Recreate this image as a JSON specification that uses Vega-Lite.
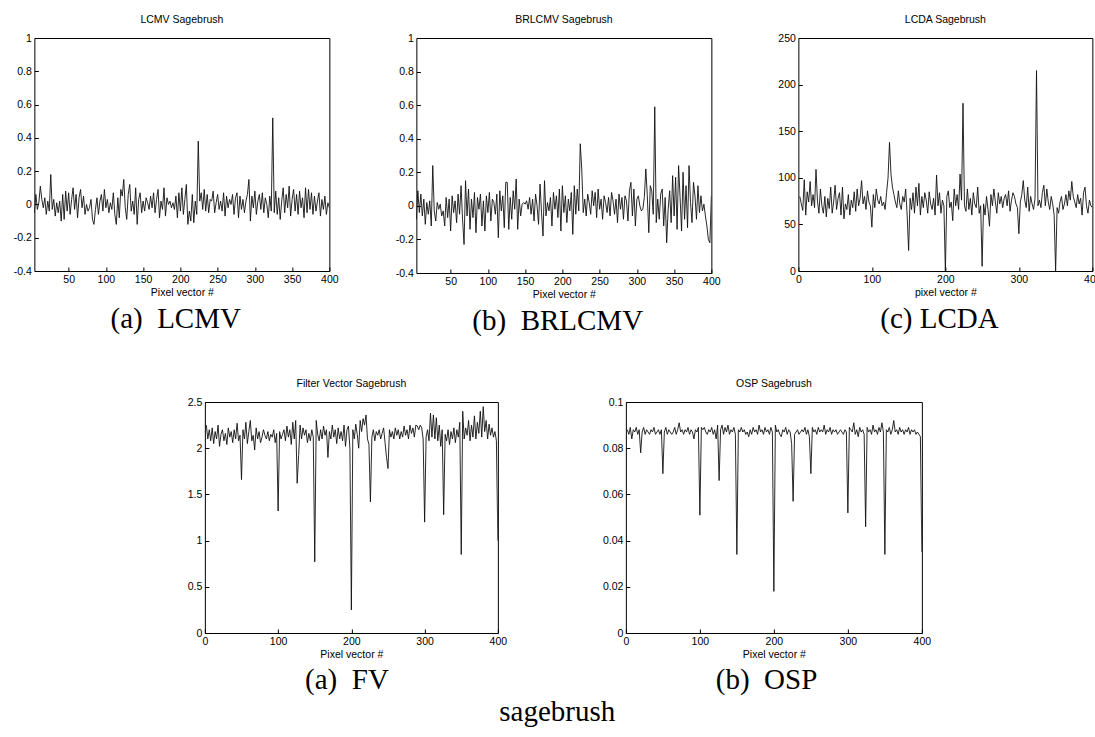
{
"$schema": "https://vega.github.io/schema/vega-lite/v6.json",
"background": "white",
"padding": {"left": 12, "top": 14, "right": 0, "bottom": 0},
"datasets": {"sb": [
{"x":2,"a":0.02,"b":0.05,"c":80,"d":2.25,"e":0.088},
{"x":4,"a":-0.05,"b":-0.08,"c":72,"d":2.1,"e":0.086},
{"x":6,"a":0.06,"b":0.09,"c":65,"d":2.2,"e":0.089},
{"x":8,"a":-0.03,"b":-0.04,"c":98,"d":2.08,"e":0.084},
{"x":10,"a":0.01,"b":0.07,"c":60,"d":2.22,"e":0.088},
{"x":12,"a":0.11,"b":-0.06,"c":85,"d":2.05,"e":0.087},
{"x":14,"a":0.03,"b":0.04,"c":74,"d":2.18,"e":0.089},
{"x":16,"a":-0.02,"b":-0.11,"c":96,"d":2.1,"e":0.086},
{"x":18,"a":0.04,"b":0.02,"c":70,"d":2.25,"e":0.088},
{"x":20,"a":-0.06,"b":-0.05,"c":82,"d":2.02,"e":0.078},
{"x":22,"a":0.02,"b":0.03,"c":68,"d":2.15,"e":0.087},
{"x":24,"a":-0.04,"b":-0.12,"c":109,"d":2.2,"e":0.089},
{"x":26,"a":0.18,"b":0.24,"c":75,"d":2.08,"e":0.086},
{"x":28,"a":-0.03,"b":-0.03,"c":62,"d":2.16,"e":0.088},
{"x":30,"a":0.03,"b":-0.09,"c":88,"d":2.04,"e":0.087},
{"x":32,"a":-0.07,"b":0.02,"c":70,"d":2.22,"e":0.086},
{"x":34,"a":0.01,"b":-0.02,"c":62,"d":2.12,"e":0.088},
{"x":36,"a":-0.05,"b":0.01,"c":80,"d":2.18,"e":0.087},
{"x":38,"a":0.02,"b":-0.06,"c":58,"d":2.06,"e":0.089},
{"x":40,"a":-0.1,"b":-0.03,"c":78,"d":2.2,"e":0.086},
{"x":42,"a":0.06,"b":-0.12,"c":67,"d":2.1,"e":0.087},
{"x":44,"a":-0.09,"b":0.05,"c":90,"d":2.27,"e":0.088},
{"x":46,"a":0.08,"b":-0.07,"c":62,"d":2.08,"e":0.086},
{"x":48,"a":-0.04,"b":0.04,"c":74,"d":2.14,"e":0.088},
{"x":50,"a":0.07,"b":-0.15,"c":92,"d":1.66,"e":0.069},
{"x":52,"a":-0.06,"b":0.06,"c":66,"d":2.2,"e":0.087},
{"x":54,"a":0.03,"b":-0.04,"c":78,"d":2.1,"e":0.089},
{"x":56,"a":0.1,"b":0.03,"c":84,"d":2.28,"e":0.086},
{"x":58,"a":-0.03,"b":-0.1,"c":60,"d":2.05,"e":0.088},
{"x":60,"a":0.06,"b":0.07,"c":90,"d":2.18,"e":0.087},
{"x":62,"a":-0.08,"b":-0.05,"c":56,"d":2.3,"e":0.086},
{"x":64,"a":0.04,"b":0.12,"c":72,"d":2.08,"e":0.087},
{"x":66,"a":0.09,"b":-0.08,"c":66,"d":2.14,"e":0.089},
{"x":68,"a":-0.02,"b":-0.23,"c":82,"d":1.98,"e":0.086},
{"x":70,"a":0.05,"b":0.15,"c":60,"d":2.22,"e":0.088},
{"x":72,"a":-0.06,"b":-0.06,"c":76,"d":2.1,"e":0.091},
{"x":74,"a":0.0,"b":0.1,"c":68,"d":2.18,"e":0.087},
{"x":76,"a":-0.04,"b":-0.14,"c":85,"d":2.06,"e":0.088},
{"x":78,"a":-0.02,"b":0.04,"c":64,"d":2.12,"e":0.086},
{"x":80,"a":0.03,"b":-0.07,"c":88,"d":2.2,"e":0.088},
{"x":82,"a":-0.09,"b":0.08,"c":70,"d":2.14,"e":0.087},
{"x":84,"a":-0.12,"b":-0.16,"c":78,"d":2.1,"e":0.089},
{"x":86,"a":-0.03,"b":0.05,"c":97,"d":2.18,"e":0.086},
{"x":88,"a":0.04,"b":-0.02,"c":72,"d":2.08,"e":0.088},
{"x":90,"a":-0.06,"b":0.07,"c":80,"d":2.15,"e":0.087},
{"x":92,"a":0.02,"b":-0.12,"c":66,"d":2.12,"e":0.084},
{"x":94,"a":0.06,"b":0.03,"c":86,"d":2.2,"e":0.088},
{"x":96,"a":-0.04,"b":-0.15,"c":74,"d":2.06,"e":0.087},
{"x":98,"a":0.09,"b":0.06,"c":70,"d":2.16,"e":0.089},
{"x":100,"a":-0.02,"b":-0.04,"c":47,"d":1.32,"e":0.051},
{"x":102,"a":0.03,"b":0.08,"c":82,"d":2.18,"e":0.089},
{"x":104,"a":-0.05,"b":-0.09,"c":68,"d":2.1,"e":0.088},
{"x":106,"a":0.01,"b":0.04,"c":88,"d":2.15,"e":0.089},
{"x":108,"a":-0.03,"b":0.02,"c":76,"d":2.2,"e":0.087},
{"x":110,"a":0.07,"b":-0.05,"c":72,"d":2.08,"e":0.086},
{"x":112,"a":-0.06,"b":0.07,"c":80,"d":2.24,"e":0.088},
{"x":114,"a":-0.12,"b":-0.19,"c":70,"d":2.12,"e":0.087},
{"x":116,"a":0.04,"b":0.09,"c":74,"d":2.2,"e":0.089},
{"x":118,"a":-0.08,"b":-0.03,"c":66,"d":2.04,"e":0.086},
{"x":120,"a":0.09,"b":0.06,"c":84,"d":2.28,"e":0.088},
{"x":122,"a":0.05,"b":-0.13,"c":100,"d":2.1,"e":0.084},
{"x":124,"a":0.15,"b":0.14,"c":138,"d":2.3,"e":0.09},
{"x":126,"a":-0.02,"b":0.14,"c":104,"d":1.62,"e":0.066},
{"x":128,"a":-0.09,"b":-0.14,"c":90,"d":1.92,"e":0.088},
{"x":130,"a":0.06,"b":0.05,"c":82,"d":2.25,"e":0.09},
{"x":132,"a":0.12,"b":-0.08,"c":74,"d":2.1,"e":0.086},
{"x":134,"a":-0.04,"b":0.09,"c":68,"d":2.22,"e":0.089},
{"x":136,"a":0.02,"b":-0.02,"c":86,"d":2.14,"e":0.087},
{"x":138,"a":-0.06,"b":0.16,"c":72,"d":2.2,"e":0.09},
{"x":140,"a":0.1,"b":-0.14,"c":66,"d":2.06,"e":0.086},
{"x":142,"a":-0.12,"b":0.04,"c":80,"d":2.16,"e":0.088},
{"x":144,"a":0.03,"b":-0.06,"c":74,"d":2.08,"e":0.087},
{"x":146,"a":0.07,"b":0.01,"c":88,"d":2.2,"e":0.089},
{"x":148,"a":-0.05,"b":0.02,"c":60,"d":2.12,"e":0.086},
{"x":150,"a":0.02,"b":0.01,"c":22,"d":0.77,"e":0.034},
{"x":152,"a":-0.04,"b":0.03,"c":78,"d":2.3,"e":0.088},
{"x":154,"a":0.04,"b":-0.02,"c":66,"d":2.15,"e":0.087},
{"x":156,"a":0.01,"b":0.05,"c":84,"d":2.08,"e":0.089},
{"x":158,"a":-0.03,"b":-0.05,"c":62,"d":2.2,"e":0.087},
{"x":160,"a":0.05,"b":0.04,"c":90,"d":2.1,"e":0.088},
{"x":162,"a":-0.02,"b":-0.09,"c":70,"d":2.24,"e":0.086},
{"x":164,"a":0.07,"b":0.07,"c":94,"d":2.14,"e":0.087},
{"x":166,"a":-0.05,"b":0.0,"c":60,"d":2.2,"e":0.085},
{"x":168,"a":0.03,"b":-0.11,"c":80,"d":1.9,"e":0.088},
{"x":170,"a":0.09,"b":0.13,"c":68,"d":2.18,"e":0.086},
{"x":172,"a":-0.08,"b":-0.04,"c":84,"d":2.1,"e":0.089},
{"x":174,"a":0.02,"b":-0.18,"c":76,"d":2.25,"e":0.087},
{"x":176,"a":-0.03,"b":0.15,"c":62,"d":2.12,"e":0.088},
{"x":178,"a":0.1,"b":-0.06,"c":85,"d":2.2,"e":0.086},
{"x":180,"a":-0.07,"b":0.02,"c":72,"d":2.05,"e":0.09},
{"x":182,"a":0.04,"b":-0.03,"c":66,"d":2.22,"e":0.087},
{"x":184,"a":0.0,"b":0.05,"c":78,"d":2.1,"e":0.088},
{"x":186,"a":0.02,"b":-0.12,"c":60,"d":2.18,"e":0.086},
{"x":188,"a":-0.02,"b":0.08,"c":103,"d":2.08,"e":0.089},
{"x":190,"a":0.01,"b":-0.02,"c":70,"d":2.25,"e":0.087},
{"x":192,"a":-0.03,"b":0.06,"c":84,"d":2.02,"e":0.088},
{"x":194,"a":0.05,"b":-0.07,"c":62,"d":2.2,"e":0.086},
{"x":196,"a":-0.08,"b":0.1,"c":76,"d":2.24,"e":0.089},
{"x":198,"a":0.07,"b":-0.15,"c":70,"d":2.0,"e":0.087},
{"x":200,"a":-0.04,"b":0.12,"c":0,"d":0.25,"e":0.018},
{"x":202,"a":0.1,"b":-0.04,"c":80,"d":2.2,"e":0.09},
{"x":204,"a":-0.06,"b":0.06,"c":86,"d":2.1,"e":0.087},
{"x":206,"a":0.03,"b":-0.1,"c":68,"d":2.26,"e":0.088},
{"x":208,"a":0.12,"b":0.04,"c":74,"d":2.15,"e":0.086},
{"x":210,"a":-0.12,"b":-0.03,"c":54,"d":2.0,"e":0.085},
{"x":212,"a":-0.04,"b":0.08,"c":88,"d":2.3,"e":0.088},
{"x":214,"a":-0.1,"b":-0.17,"c":70,"d":2.18,"e":0.087},
{"x":216,"a":0.06,"b":0.12,"c":82,"d":2.32,"e":0.089},
{"x":218,"a":-0.11,"b":-0.05,"c":66,"d":2.25,"e":0.086},
{"x":220,"a":0.02,"b":0.1,"c":104,"d":2.36,"e":0.088},
{"x":222,"a":-0.06,"b":-0.03,"c":76,"d":2.1,"e":0.087},
{"x":224,"a":0.38,"b":0.37,"c":180,"d":2.04,"e":0.082},
{"x":226,"a":0.02,"b":0.22,"c":70,"d":1.42,"e":0.057},
{"x":228,"a":0.07,"b":-0.04,"c":64,"d":2.12,"e":0.086},
{"x":230,"a":-0.03,"b":0.04,"c":88,"d":2.2,"e":0.087},
{"x":232,"a":0.09,"b":-0.06,"c":66,"d":2.08,"e":0.088},
{"x":234,"a":-0.04,"b":0.07,"c":78,"d":2.18,"e":0.086},
{"x":236,"a":0.06,"b":0.02,"c":60,"d":2.14,"e":0.087},
{"x":238,"a":-0.05,"b":-0.05,"c":84,"d":2.2,"e":0.088},
{"x":240,"a":0.03,"b":0.09,"c":72,"d":2.1,"e":0.087},
{"x":242,"a":0.02,"b":0.0,"c":68,"d":2.16,"e":0.089},
{"x":244,"a":0.08,"b":0.08,"c":90,"d":2.22,"e":0.086},
{"x":246,"a":-0.05,"b":-0.07,"c":62,"d":2.06,"e":0.088},
{"x":248,"a":0.01,"b":0.1,"c":70,"d":1.9,"e":0.085},
{"x":250,"a":0.06,"b":-0.02,"c":5,"d":1.78,"e":0.069},
{"x":252,"a":-0.03,"b":0.04,"c":72,"d":2.2,"e":0.089},
{"x":254,"a":0.02,"b":-0.08,"c":60,"d":2.12,"e":0.087},
{"x":256,"a":-0.04,"b":0.06,"c":80,"d":2.18,"e":0.088},
{"x":258,"a":0.07,"b":0.02,"c":66,"d":2.1,"e":0.086},
{"x":260,"a":-0.07,"b":-0.04,"c":48,"d":2.22,"e":0.089},
{"x":262,"a":0.05,"b":0.05,"c":82,"d":2.14,"e":0.087},
{"x":264,"a":-0.02,"b":-0.06,"c":70,"d":2.2,"e":0.088},
{"x":266,"a":0.03,"b":0.08,"c":88,"d":2.1,"e":0.087},
{"x":268,"a":0.0,"b":0.03,"c":74,"d":2.18,"e":0.09},
{"x":270,"a":0.06,"b":-0.05,"c":62,"d":2.12,"e":0.086},
{"x":272,"a":-0.06,"b":0.04,"c":84,"d":2.24,"e":0.088},
{"x":274,"a":0.04,"b":-0.1,"c":72,"d":2.14,"e":0.087},
{"x":276,"a":0.07,"b":0.07,"c":80,"d":2.2,"e":0.089},
{"x":278,"a":-0.08,"b":-0.02,"c":68,"d":2.1,"e":0.086},
{"x":280,"a":0.05,"b":0.05,"c":78,"d":2.25,"e":0.088},
{"x":282,"a":-0.03,"b":-0.08,"c":82,"d":2.16,"e":0.087},
{"x":284,"a":0.03,"b":0.06,"c":70,"d":2.22,"e":0.088},
{"x":286,"a":-0.05,"b":0.03,"c":86,"d":2.12,"e":0.086},
{"x":288,"a":0.02,"b":-0.09,"c":64,"d":2.25,"e":0.087},
{"x":290,"a":0.06,"b":0.09,"c":76,"d":2.24,"e":0.088},
{"x":292,"a":0.15,"b":0.14,"c":84,"d":2.2,"e":0.087},
{"x":294,"a":-0.1,"b":-0.06,"c":80,"d":2.25,"e":0.086},
{"x":296,"a":0.05,"b":0.1,"c":72,"d":2.22,"e":0.088},
{"x":298,"a":-0.02,"b":-0.12,"c":68,"d":2.1,"e":0.087},
{"x":300,"a":0.08,"b":0.04,"c":40,"d":1.2,"e":0.052},
{"x":302,"a":-0.06,"b":0.06,"c":74,"d":2.12,"e":0.089},
{"x":304,"a":0.02,"b":0.0,"c":82,"d":2.2,"e":0.088},
{"x":306,"a":0.06,"b":-0.03,"c":97,"d":2.08,"e":0.087},
{"x":308,"a":-0.03,"b":-0.02,"c":76,"d":2.38,"e":0.091},
{"x":310,"a":0.07,"b":0.05,"c":68,"d":2.12,"e":0.086},
{"x":312,"a":-0.05,"b":0.22,"c":90,"d":2.36,"e":0.088},
{"x":314,"a":0.04,"b":0.06,"c":64,"d":2.1,"e":0.085},
{"x":316,"a":0.0,"b":-0.16,"c":80,"d":2.33,"e":0.089},
{"x":318,"a":-0.08,"b":0.12,"c":72,"d":2.08,"e":0.087},
{"x":320,"a":0.05,"b":0.09,"c":66,"d":2.25,"e":0.088},
{"x":322,"a":-0.04,"b":-0.05,"c":78,"d":2.02,"e":0.086},
{"x":324,"a":0.52,"b":0.59,"c":215,"d":2.2,"e":0.046},
{"x":326,"a":-0.05,"b":-0.1,"c":70,"d":1.28,"e":0.089},
{"x":328,"a":0.08,"b":0.04,"c":76,"d":2.15,"e":0.087},
{"x":330,"a":-0.06,"b":-0.08,"c":68,"d":2.08,"e":0.088},
{"x":332,"a":0.04,"b":0.07,"c":84,"d":2.2,"e":0.086},
{"x":334,"a":-0.09,"b":0.1,"c":92,"d":2.04,"e":0.09},
{"x":336,"a":0.02,"b":-0.12,"c":70,"d":2.18,"e":0.087},
{"x":338,"a":0.1,"b":0.05,"c":88,"d":2.1,"e":0.088},
{"x":340,"a":-0.05,"b":-0.22,"c":74,"d":2.22,"e":0.086},
{"x":342,"a":0.06,"b":-0.02,"c":66,"d":2.06,"e":0.089},
{"x":344,"a":-0.02,"b":0.09,"c":80,"d":2.2,"e":0.087},
{"x":346,"a":0.11,"b":-0.1,"c":72,"d":2.12,"e":0.091},
{"x":348,"a":-0.07,"b":0.18,"c":60,"d":2.28,"e":0.087},
{"x":350,"a":0.03,"b":-0.06,"c":0,"d":0.85,"e":0.034},
{"x":352,"a":0.09,"b":0.17,"c":68,"d":2.4,"e":0.088},
{"x":354,"a":-0.04,"b":-0.14,"c":62,"d":2.1,"e":0.087},
{"x":356,"a":0.06,"b":0.24,"c":74,"d":2.22,"e":0.089},
{"x":358,"a":-0.06,"b":0.05,"c":80,"d":2.14,"e":0.086},
{"x":360,"a":0.08,"b":-0.15,"c":66,"d":2.3,"e":0.088},
{"x":362,"a":-0.02,"b":0.2,"c":72,"d":2.08,"e":0.092},
{"x":364,"a":0.04,"b":-0.08,"c":82,"d":2.25,"e":0.087},
{"x":366,"a":-0.08,"b":0.12,"c":70,"d":2.12,"e":0.088},
{"x":368,"a":0.1,"b":-0.13,"c":86,"d":2.35,"e":0.086},
{"x":370,"a":-0.05,"b":0.24,"c":76,"d":2.1,"e":0.089},
{"x":372,"a":0.09,"b":0.02,"c":96,"d":2.28,"e":0.087},
{"x":374,"a":-0.03,"b":-0.1,"c":80,"d":2.16,"e":0.088},
{"x":376,"a":0.07,"b":0.14,"c":74,"d":2.4,"e":0.086},
{"x":378,"a":-0.06,"b":0.06,"c":68,"d":2.12,"e":0.088},
{"x":380,"a":0.05,"b":-0.08,"c":82,"d":2.45,"e":0.087},
{"x":382,"a":-0.04,"b":0.12,"c":72,"d":2.18,"e":0.089},
{"x":384,"a":0.02,"b":-0.04,"c":78,"d":2.3,"e":0.086},
{"x":386,"a":0.07,"b":0.06,"c":60,"d":2.1,"e":0.088},
{"x":388,"a":-0.07,"b":-0.03,"c":84,"d":2.26,"e":0.087},
{"x":390,"a":0.03,"b":0.01,"c":90,"d":2.14,"e":0.088},
{"x":392,"a":-0.03,"b":-0.06,"c":70,"d":2.22,"e":0.086},
{"x":394,"a":0.05,"b":-0.12,"c":62,"d":2.12,"e":0.087},
{"x":396,"a":-0.06,"b":-0.2,"c":76,"d":2.18,"e":0.086},
{"x":398,"a":0.01,"b":-0.22,"c":70,"d":2.08,"e":0.085},
{"x":400,"a":-0.02,"b":0.06,"c":68,"d":1.0,"e":0.035}
]},
"data": {"name": "sb"},
"title": {"text": "sagebrush", "orient": "bottom", "anchor": "middle", "font": "Liberation Serif", "fontSize": 29, "fontWeight": "normal", "color": "black", "offset": 3},
"vconcat": [
 {"hconcat": [
  {"title": {"text": "(a)\u00a0\u00a0LCMV", "orient": "bottom", "anchor": "middle", "font": "Liberation Serif", "fontSize": 29, "fontWeight": "normal", "offset": 6},
   "vconcat": [{"title": "LCMV Sagebrush", "width": 295, "height": 233,
    "mark": {"type": "line", "clip": true, "color": "#111", "strokeWidth": 0.9},
    "encoding": {
     "x": {"field": "x", "type": "quantitative", "scale": {"domain": [4, 400], "nice": false, "zero": false}, "axis": {"values": [50,100,150,200,250,300,350,400], "title": "Pixel vector #"}},
     "y": {"field": "a", "type": "quantitative", "scale": {"domain": [-0.4, 1], "nice": false, "zero": false}, "axis": {"values": [-0.4,-0.2,0,0.2,0.4,0.6,0.8,1], "title": null, "labelExpr": "replace(format(datum.value,'~g'),'\u2212','-')"}}
    }}]},
  {"title": {"text": "(b)\u00a0\u00a0BRLCMV", "orient": "bottom", "anchor": "middle", "font": "Liberation Serif", "fontSize": 29, "fontWeight": "normal", "offset": 6},
   "vconcat": [{"title": "BRLCMV Sagebrush", "width": 295, "height": 235,
    "mark": {"type": "line", "clip": true, "color": "#111", "strokeWidth": 0.9},
    "encoding": {
     "x": {"field": "x", "type": "quantitative", "scale": {"domain": [4, 400], "nice": false, "zero": false}, "axis": {"values": [50,100,150,200,250,300,350,400], "title": "Pixel vector #"}},
     "y": {"field": "b", "type": "quantitative", "scale": {"domain": [-0.4, 1], "nice": false, "zero": false}, "axis": {"values": [-0.4,-0.2,0,0.2,0.4,0.6,0.8,1], "title": null, "labelExpr": "replace(format(datum.value,'~g'),'\u2212','-')"}}
    }}]},
  {"title": {"text": "(c) LCDA", "orient": "bottom", "anchor": "middle", "font": "Liberation Serif", "fontSize": 29, "fontWeight": "normal", "offset": 6},
   "vconcat": [{"title": "LCDA Sagebrush", "width": 294, "height": 233,
    "mark": {"type": "line", "clip": true, "color": "#111", "strokeWidth": 0.9},
    "encoding": {
     "x": {"field": "x", "type": "quantitative", "scale": {"domain": [0, 400], "nice": false, "zero": false}, "axis": {"values": [0,100,200,300,400], "title": "pixel vector #"}},
     "y": {"field": "c", "type": "quantitative", "scale": {"domain": [0, 250], "nice": false, "zero": false}, "axis": {"values": [0,50,100,150,200,250], "title": null, "labelExpr": "replace(format(datum.value,'~g'),'\u2212','-')"}}
    }}]}
 ], "spacing": 55},
 {"hconcat": [
  {"title": {"text": "(a)\u00a0\u00a0FV", "orient": "bottom", "anchor": "middle", "font": "Liberation Serif", "fontSize": 29, "fontWeight": "normal", "offset": 5},
   "vconcat": [{"title": "Filter Vector Sagebrush", "width": 293, "height": 231,
    "mark": {"type": "line", "clip": true, "color": "#111", "strokeWidth": 0.9},
    "encoding": {
     "x": {"field": "x", "type": "quantitative", "scale": {"domain": [0, 400], "nice": false, "zero": false}, "axis": {"values": [0,100,200,300,400], "title": "Pixel vector #"}},
     "y": {"field": "d", "type": "quantitative", "scale": {"domain": [0, 2.5], "nice": false, "zero": false}, "axis": {"values": [0,0.5,1,1.5,2,2.5], "title": null, "labelExpr": "replace(format(datum.value,'~g'),'\u2212','-')"}}
    }}]},
  {"title": {"text": "(b)\u00a0\u00a0OSP", "orient": "bottom", "anchor": "middle", "font": "Liberation Serif", "fontSize": 29, "fontWeight": "normal", "offset": 5},
   "vconcat": [{"title": "OSP Sagebrush", "width": 296, "height": 231,
    "mark": {"type": "line", "clip": true, "color": "#111", "strokeWidth": 0.9},
    "encoding": {
     "x": {"field": "x", "type": "quantitative", "scale": {"domain": [0, 400], "nice": false, "zero": false}, "axis": {"values": [0,100,200,300,400], "title": "Pixel vector #"}},
     "y": {"field": "e", "type": "quantitative", "scale": {"domain": [0, 0.1], "nice": false, "zero": false}, "axis": {"values": [0,0.02,0.04,0.06,0.08,0.1], "title": null, "labelExpr": "replace(format(datum.value,'~g'),'\u2212','-')"}}
    }}]}
 ], "spacing": 94}
],
"spacing": 42,
"center": true,
"config": {
 "view": {"stroke": "black", "strokeWidth": 1},
 "axis": {"grid": false, "domain": false, "tickColor": "black", "tickSize": -4, "labelPadding": 7, "labelFlush": false, "labelFont": "Liberation Sans", "labelFontSize": 10.5, "labelColor": "black", "titleFont": "Liberation Sans", "titleFontSize": 10.5, "titleFontWeight": "normal", "titleColor": "black", "titlePadding": 3},
 "title": {"font": "Liberation Sans", "fontSize": 10.5, "fontWeight": "normal", "color": "black", "offset": 8}
}
}
